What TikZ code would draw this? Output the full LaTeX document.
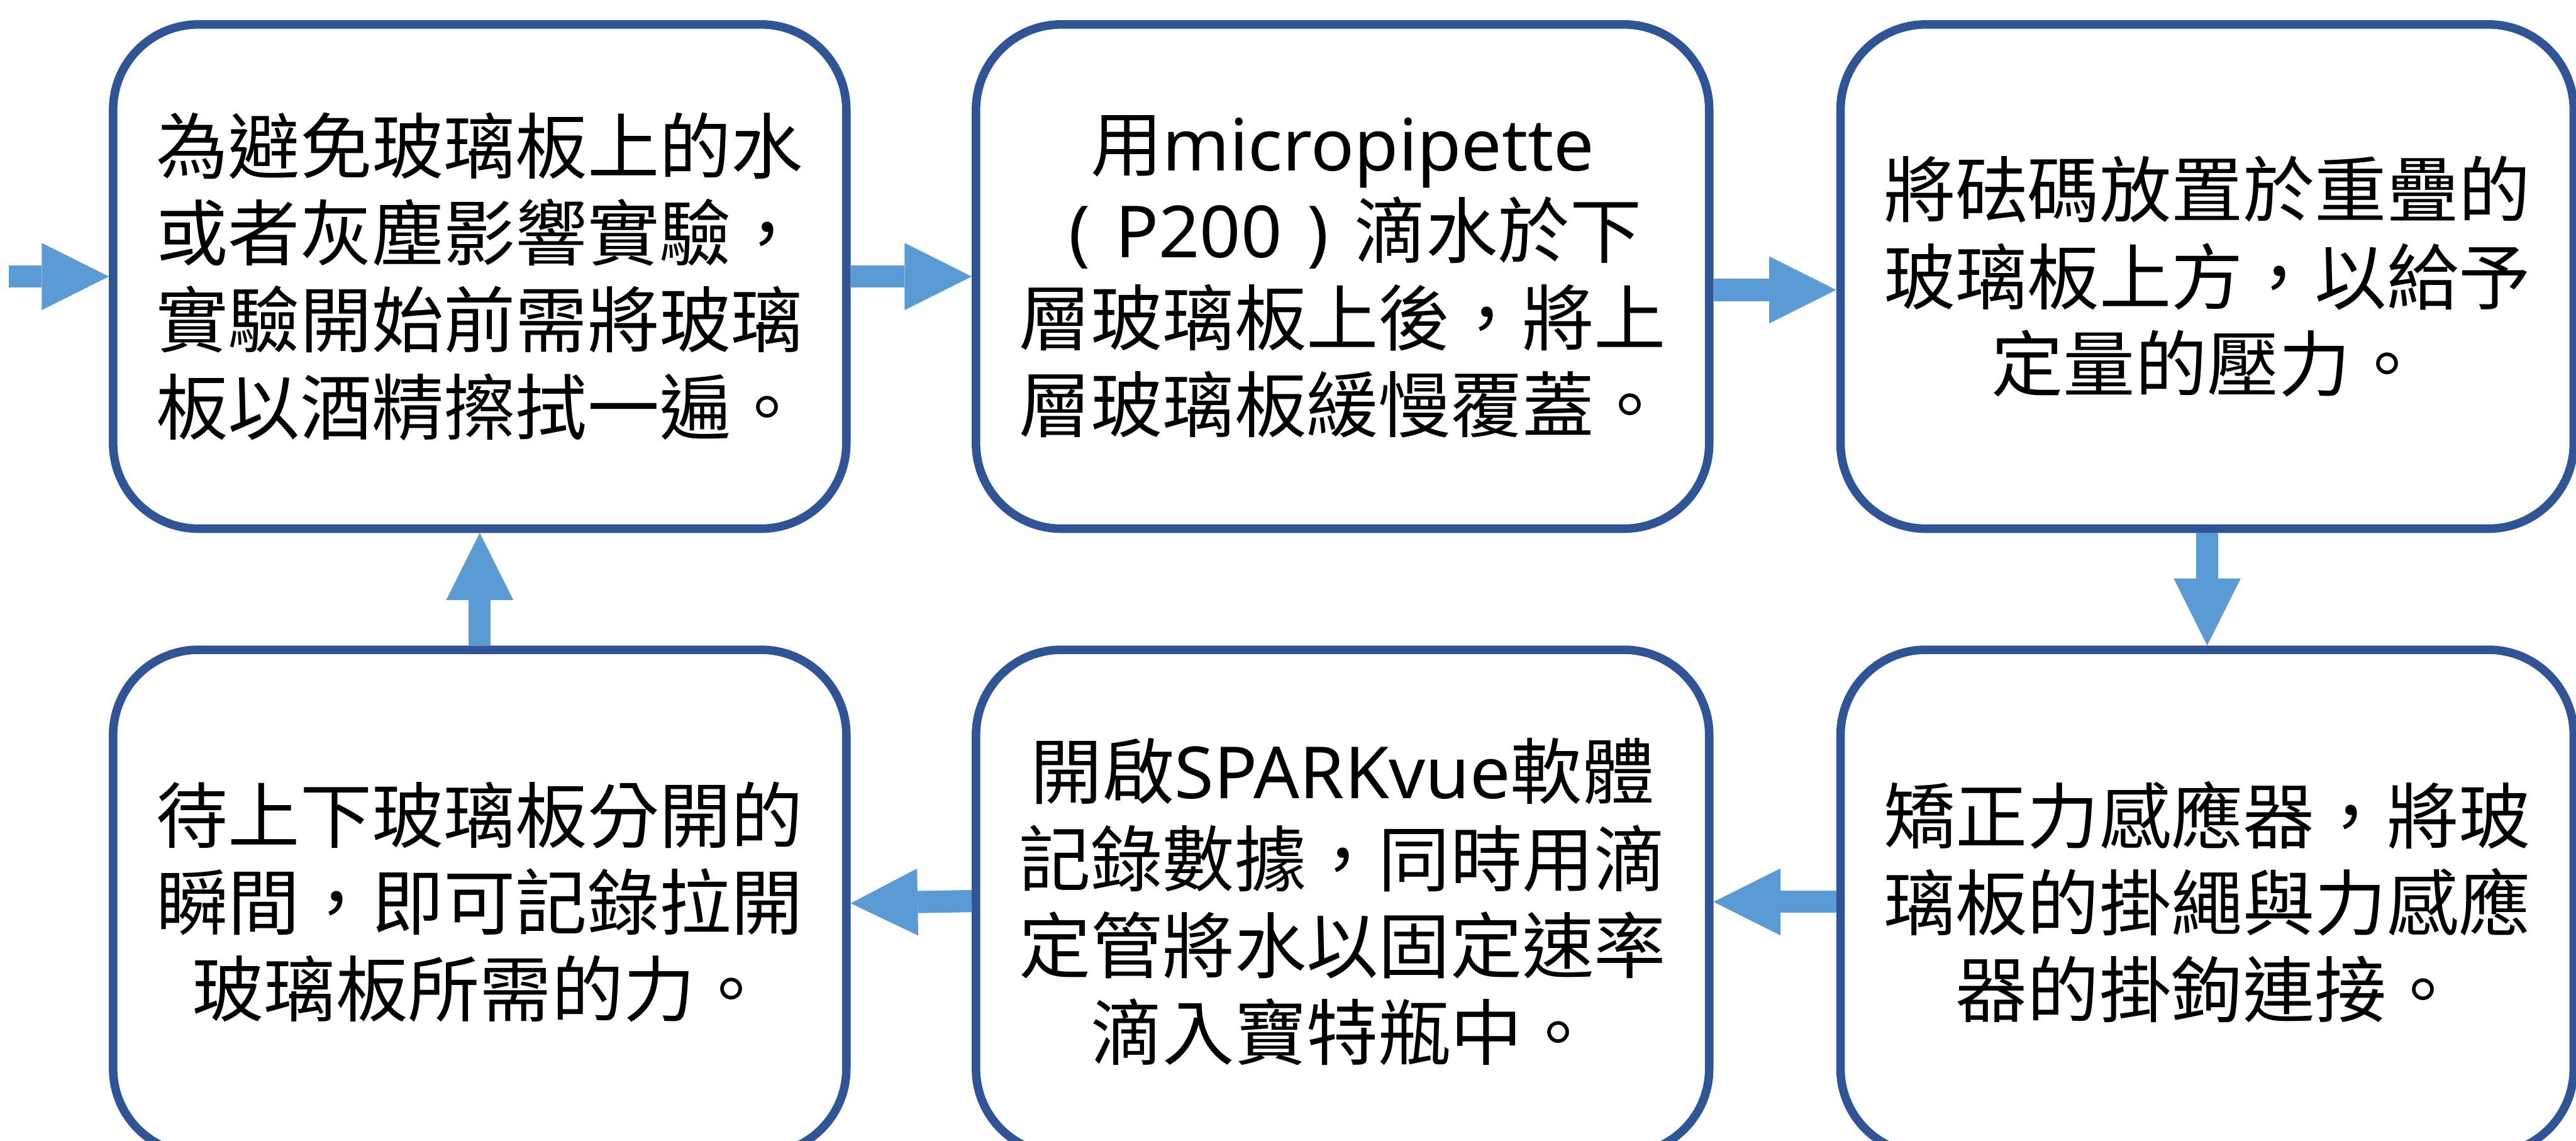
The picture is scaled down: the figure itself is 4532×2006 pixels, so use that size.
\documentclass[tikz,border=0pt]{standalone}
\usepackage{fontspec}
\newfontfamily\cjk{Noto Sans CJK TC}
\newfontfamily\lat{Noto Sans}
\usetikzlibrary{arrows.meta}
\definecolor{boxblue}{HTML}{2F5597}
\definecolor{arrowblue}{HTML}{5B9BD5}
\newcommand\cell[1]{\makebox[12.65pt][c]{#1}}
\tikzset{
  stepbox/.style={draw=boxblue, line width=1.5pt, rounded corners=15pt, fill=white,
    minimum width=129pt, minimum height=88.7pt, inner sep=0pt, align=center,
    font=\cjk\fontsize{12.65pt}{15.3pt}\selectfont},
  flow/.style={draw=arrowblue, line width=3.9pt,
    -{Triangle[length=11.8pt,width=11.8pt,line width=0pt]}},
}
\begin{document}
\begin{tikzpicture}[x=0.1pt,y=-0.1pt]
  \clip (0,0) rectangle (4532,2006);
  \fill[white] (0,0) rectangle (4532,2006);

  % top row
  \node[stepbox] (b1) at (844,486.5) {為避免玻璃板上的水\\或者灰塵影響實驗，\\實驗開始前需將玻璃\\板以酒精擦拭一遍。};
  \node[stepbox] (b2) at (2362,486.5) {用{\lat micropipette}\\\cell{\lat(}{\lat P200}\cell{\lat)}滴水於下\\層玻璃板上後，將上\\層玻璃板緩慢覆蓋。};
  \node[stepbox] (b3) at (3883,486.5) {將砝碼放置於重疊的\\玻璃板上方，以給予\\定量的壓力。};

  % bottom row
  \node[stepbox] (b4) at (844,1586.5) {待上下玻璃板分開的\\瞬間，即可記錄拉開\\玻璃板所需的力。};
  \node[stepbox] (b5) at (2362,1586.5) {開啟{\lat SPARKvue}軟體\\記錄數據，同時用滴\\定管將水以固定速率\\滴入寶特瓶中。};
  \node[stepbox] (b6) at (3883,1586.5) {矯正力感應器，將玻\\璃板的掛繩與力感應\\器的掛鉤連接。};

  % flow arrows
  \coordinate (start) at (15,486.5);
  \draw[flow] (start) -- (b1.west);
  \draw[flow] (b1.east) -- (b2.west);
  \draw[flow] ([yshift=-2.35pt]b2.east) -- ([yshift=-2.35pt]b3.west);
  \draw[flow] (b3.south) -- (b6.north);
  \draw[flow] (b6.west) -- (b5.east);
  \draw[flow] ([yshift=0.15pt]b5.west) -- ([yshift=-0.25pt]b4.east);
  \draw[flow] (b4.north) -- (b1.south);
\end{tikzpicture}
\end{document}
